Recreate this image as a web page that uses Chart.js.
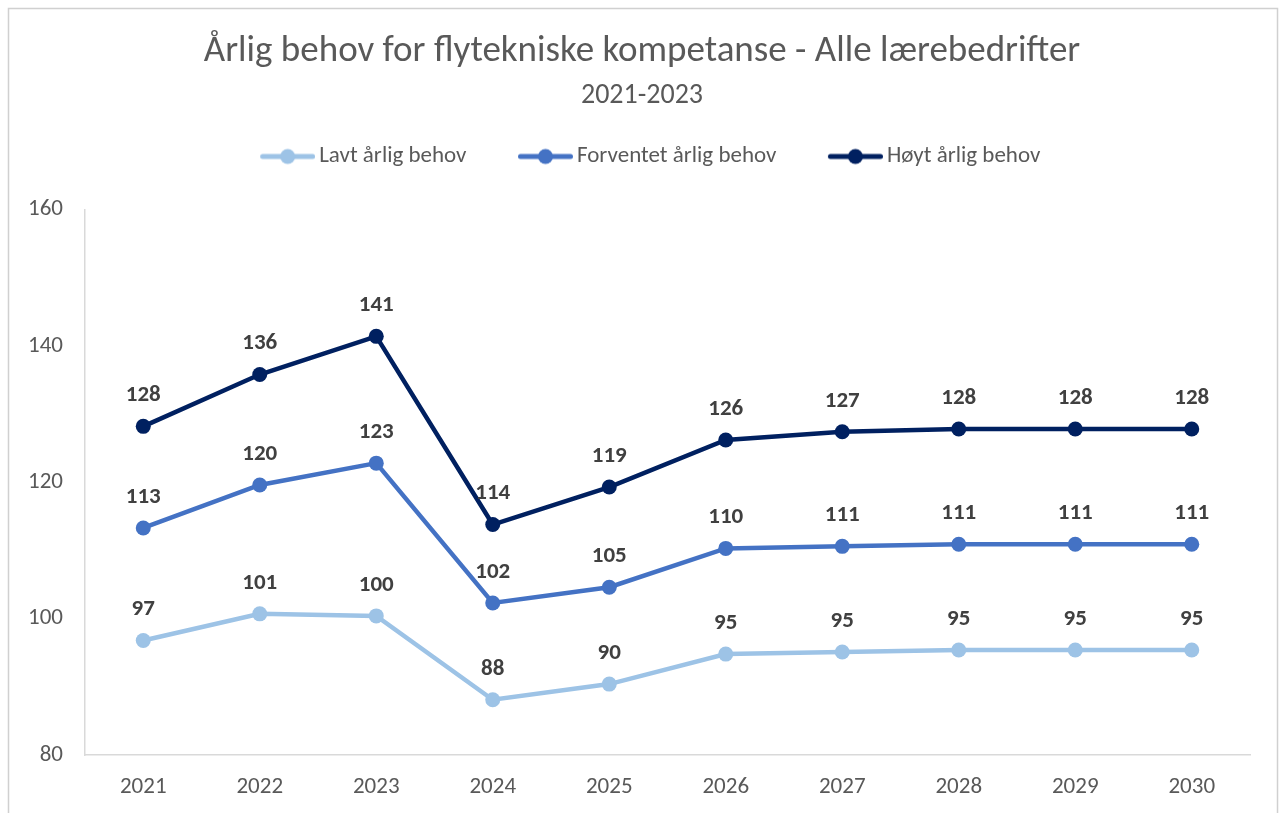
<!DOCTYPE html>
<html>
<head>
<meta charset="utf-8">
<script src="https://cdn.jsdelivr.net/npm/chart.js@4/dist/chart.umd.min.js"></script>
<style>
html,body{margin:0;padding:0;background:#fff;}
#wrap{position:relative;width:1279px;height:813px;}
</style>
</head>
<body>
<div id="wrap"><canvas id="c" width="1279" height="813"></canvas></div>
<script>
const categories = ['2021','2022','2023','2024','2025','2026','2027','2028','2029','2030'];
const lavt = [96.8, 100.7, 100.4, 88.1, 90.4, 94.8, 95.1, 95.4, 95.4, 95.4];
const forventet = [113.3, 119.6, 122.8, 102.3, 104.6, 110.3, 110.6, 110.9, 110.9, 110.9];
const hoyt = [128.2, 135.8, 141.4, 113.8, 119.3, 126.2, 127.4, 127.8, 127.8, 127.8];
const seriesNames = ['Lavt årlig behov', 'Forventet årlig behov', 'Høyt årlig behov'];
const seriesColors = ['#9DC3E6', '#4472C4', '#002060'];
const yTicks = [80, 100, 120, 140, 160];

const FONT = 'Carlito, Lato, "Open Sans", sans-serif';
const GREY = '#595959';

function legendIcon(color){
  const c = document.createElement('canvas');
  c.width = 79; c.height = 18;
  const g = c.getContext('2d');
  g.strokeStyle = color; g.lineWidth = 5; g.lineCap = 'round';
  g.beginPath(); g.moveTo(26.5, 9); g.lineTo(76.5, 9); g.stroke();
  g.fillStyle = color; g.beginPath(); g.arc(51.5, 9, 7.5, 0, Math.PI*2); g.fill();
  return c;
}
const icons = seriesColors.map(legendIcon);

const frame = {
  id: 'frame',
  beforeDraw(chart){
    const ctx = chart.ctx;
    ctx.save();
    ctx.fillStyle = '#fff';
    ctx.fillRect(0,0,chart.width,chart.height);
    ctx.strokeStyle = '#D0D0D0';
    ctx.lineWidth = 1.5;
    ctx.strokeRect(8.5, 8.5, 1269, 820);
    ctx.restore();
  }
};

const TOP_SPACER = 31.5;
const RIGHT_SPACER = 29;
const spacerPlugin = {
  id: 'spacer',
  install(chart){
    Chart.layouts.addBox(chart, {
      position: 'top', weight: -10, fullSize: true,
      options: {},
      width: 0, height: 0,
      isHorizontal(){ return true; },
      update(maxWidth){ this.width = maxWidth; this.height = TOP_SPACER; },
      draw(){}
    });
    Chart.layouts.addBox(chart, {
      position: 'right', weight: -10, fullSize: false,
      options: {},
      width: 0, height: 0,
      isHorizontal(){ return false; },
      update(maxWidth, maxHeight){ this.width = RIGHT_SPACER; this.height = maxHeight; },
      draw(){}
    });
  }
};

const labelPlugin = {
  id: 'valueLabels',
  afterDatasetsDraw(chart){
    const ctx = chart.ctx;
    ctx.save();
    ctx.font = 'bold 23px ' + FONT;
    ctx.fillStyle = '#404040';
    ctx.textAlign = 'center';
    ctx.textBaseline = 'middle';
    chart.data.datasets.forEach((ds, i) => {
      const meta = chart.getDatasetMeta(i);
      meta.data.forEach((pt, j) => {
        ctx.fillText(String(Math.round(ds.data[j])), pt.x, pt.y - 31);
      });
    });
    ctx.restore();
  }
};

const datasets = [lavt, forventet, hoyt].map((d, i) => ({
  label: seriesNames[i],
  data: d,
  borderColor: seriesColors[i],
  backgroundColor: seriesColors[i],
  borderWidth: 4.5,
  pointRadius: 7.5,
  pointHoverRadius: 7.5,
  pointBorderWidth: 0,
  tension: 0,
  fill: false
}));

new Chart(document.getElementById('c'), {
  type: 'line',
  data: { labels: categories, datasets },
  options: {
    responsive: false,
    animation: false,
    events: [],
    layout: { padding: { left: 5, right: 0, top: 0, bottom: 0 } },
    plugins: {
      title: {
        display: true,
        text: 'Årlig behov for flytekniske kompetanse - Alle lærebedrifter',
        color: GREY,
        font: { family: FONT, size: 37, weight: 'normal', lineHeight: 1.2 },
        padding: { top: 29.8, bottom: 0 }
      },
      subtitle: {
        display: true,
        text: '2021-2023',
        color: GREY,
        font: { family: FONT, size: 28, weight: 'normal', lineHeight: 1.0 },
        padding: { top: 7.8, bottom: 0 }
      },
      legend: {
        display: true,
        position: 'top',
        labels: {
          color: GREY,
          font: { family: FONT, size: 23 },
          usePointStyle: true,
          pointStyleWidth: 64,
          padding: 35,
          generateLabels(chart){
            return chart.data.datasets.map((ds, i) => ({
              text: ds.label,
              fillStyle: seriesColors[i],
              strokeStyle: seriesColors[i],
              pointStyle: icons[i],
              lineWidth: 0,
              hidden: false,
              datasetIndex: i,
              fontColor: GREY
            }));
          }
        }
      },
      tooltip: { enabled: false }
    },
    scales: {
      x: {
        offset: true,
        grid: { display: false, drawTicks: false },
        border: { display: true, color: '#D9D9D9', width: 1.5 },
        ticks: { color: GREY, font: { family: FONT, size: 23 }, padding: 18, maxRotation: 0 },
        afterFit(scale){ scale.height = 58; }
      },
      y: {
        min: 80, max: 160,
        afterBuildTicks(scale){ scale.ticks = yTicks.map(v => ({ value: v })); },
        grid: { display: false, drawTicks: false },
        border: { display: true, color: '#D9D9D9', width: 1.5 },
        ticks: { color: GREY, font: { family: FONT, size: 23 }, padding: 22 },
        afterFit(scale){ scale.width = 80; }
      }
    }
  },
  plugins: [frame, spacerPlugin, labelPlugin]
});
</script>
</body>
</html>
